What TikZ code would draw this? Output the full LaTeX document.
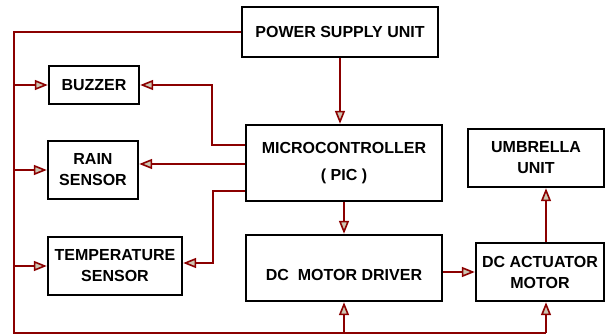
\documentclass[tikz,border=0pt]{standalone}
\usepackage{fontspec}
\setmainfont{Liberation Sans}
\usetikzlibrary{arrows.meta}
\definecolor{wirered}{RGB}{139,0,0}
\definecolor{tipfill}{RGB}{205,198,178}
\begin{document}
\begin{tikzpicture}[x=1pt,y=-1pt,font=\bfseries\fontsize{16}{21}\selectfont,
  block/.style={draw,line width=2.4pt,align=center,inner sep=0pt},
  wire/.style={draw=wirered,line width=2pt},
  feed/.style={wire,-{Triangle[length=13pt,width=10pt,fill=tipfill,line width=1.6pt]}}]
\path[use as bounding box] (0,0) rectangle (605,335);
% blocks
\node[block,minimum width=196,minimum height=50] (psu) at (340,32) {POWER SUPPLY UNIT};
\node[block,minimum width=90,minimum height=38] (buzzer) at (94,85) {BUZZER};
\node[block,minimum width=196,minimum height=76] (mcu) at (344,163)
  {MICROCONTROLLER\\[6pt]( PIC )};
\node[block,minimum width=90,minimum height=58] (rain) at (93,170) {RAIN\\SENSOR};
\node[block,minimum width=134,minimum height=58] (temp) at (115,266) {TEMPERATURE\\SENSOR};
\node[block,minimum width=196,minimum height=66,text height=24pt,text depth=0pt] (driver)
  at (344,268) {DC\ \ MOTOR DRIVER};
\node[block,minimum width=128,minimum height=58] (act) at (540,272) {DC ACTUATOR\\MOTOR};
\node[block,minimum width=136,minimum height=58] (umb) at (536,158) {UMBRELLA\\UNIT};
% supply rail
\coordinate (rail) at (14,333);
\coordinate (actin) at ([xshift=6pt]act.south);
\draw[wire] (psu.west) -| (rail) -- (rail -| actin);
\draw[feed] (rail |- buzzer.west) -- (buzzer.west);
\draw[feed] (rail |- rain.west) -- (rain.west);
\draw[feed] (rail |- temp.west) -- (temp.west);
\draw[feed] (rail -| driver.south) -- (driver.south);
\draw[feed] (rail -| actin) -- (actin);
% signal paths
\draw[feed] (psu.south) -- (psu.south |- mcu.north);
\draw[feed] ([yshift=18pt]mcu.west) -- ++(-33pt,0) |- (buzzer.east);
\draw[feed] ([yshift=-1pt]mcu.west) -- ([yshift=-1pt]mcu.west -| rain.east);
\draw[feed] ([yshift=-28pt]mcu.west) -- ++(-32pt,0) |- ([yshift=3pt]temp.east);
\draw[feed] (mcu.south) -- (driver.north);
\draw[feed] (driver.east |- 0,272) -- (act.west |- 0,272);
\draw[feed] ([xshift=6pt]act.north) -- ([xshift=6pt]act.north |- umb.south);
\end{tikzpicture}
\end{document}
